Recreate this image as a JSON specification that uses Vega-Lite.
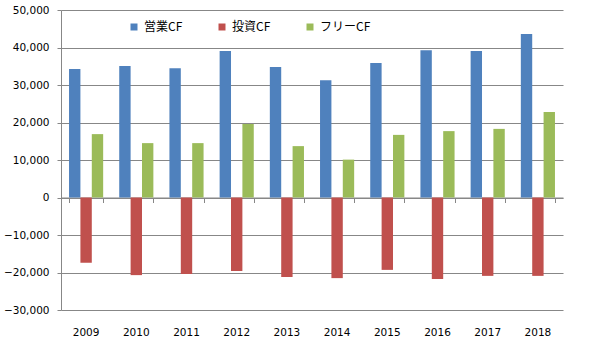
{
  "$schema": "https://vega.github.io/schema/vega-lite/v6.json",
  "width": 502,
  "height": 300,
  "autosize": {"type": "none"},
  "padding": {"left": 61, "top": 10, "right": 45, "bottom": 44},
  "config": {"view": {"stroke": null}, "font": "DejaVu Sans"},
  "data": {
    "values": [
      {"year": "2009", "series": "営業CF", "value": 34300},
      {"year": "2009", "series": "投資CF", "value": -17400},
      {"year": "2009", "series": "フリーCF", "value": 16900},
      {"year": "2010", "series": "営業CF", "value": 35100},
      {"year": "2010", "series": "投資CF", "value": -20700},
      {"year": "2010", "series": "フリーCF", "value": 14500},
      {"year": "2011", "series": "営業CF", "value": 34500},
      {"year": "2011", "series": "投資CF", "value": -20400},
      {"year": "2011", "series": "フリーCF", "value": 14500},
      {"year": "2012", "series": "営業CF", "value": 39100},
      {"year": "2012", "series": "投資CF", "value": -19600},
      {"year": "2012", "series": "フリーCF", "value": 19600},
      {"year": "2013", "series": "営業CF", "value": 34800},
      {"year": "2013", "series": "投資CF", "value": -21200},
      {"year": "2013", "series": "フリーCF", "value": 13700},
      {"year": "2014", "series": "営業CF", "value": 31300},
      {"year": "2014", "series": "投資CF", "value": -21500},
      {"year": "2014", "series": "フリーCF", "value": 10100},
      {"year": "2015", "series": "営業CF", "value": 35900},
      {"year": "2015", "series": "投資CF", "value": -19300},
      {"year": "2015", "series": "フリーCF", "value": 16700},
      {"year": "2016", "series": "営業CF", "value": 39300},
      {"year": "2016", "series": "投資CF", "value": -21700},
      {"year": "2016", "series": "フリーCF", "value": 17700},
      {"year": "2017", "series": "営業CF", "value": 39100},
      {"year": "2017", "series": "投資CF", "value": -20900},
      {"year": "2017", "series": "フリーCF", "value": 18300},
      {"year": "2018", "series": "営業CF", "value": 43600},
      {"year": "2018", "series": "投資CF", "value": -20900},
      {"year": "2018", "series": "フリーCF", "value": 22800}
    ]
  },
  "layer": [
    {
      "mark": {"type": "bar"},
      "encoding": {
        "x": {
          "field": "year", "type": "ordinal",
          "scale": {"paddingInner": 0.32, "paddingOuter": 0.16},
          "axis": {"orient": "bottom", "title": null, "domain": false, "ticks": false, "grid": false,
                   "labelAngle": 0, "labelPadding": 17, "labelFont": "DejaVu Sans", "labelFontSize": 10.5, "labelColor": "#000000"}
        },
        "xOffset": {"field": "series", "type": "nominal", "sort": ["営業CF", "投資CF", "フリーCF"], "scale": {"paddingInner": 0, "paddingOuter": 0}},
        "y": {
          "field": "value", "type": "quantitative",
          "scale": {"domain": [-30000, 50000], "nice": false, "zero": false},
          "axis": {"title": null, "values": [-30000, -20000, -10000, 0, 10000, 20000, 30000, 40000, 50000],
                   "format": ",.0f", "grid": true, "gridColor": "#878787", "gridOpacity": 1, "gridWidth": 1,
                   "domainColor": "#878787", "tickColor": "#878787", "tickSize": 4, "labelPadding": 8,
                   "labelFont": "DejaVu Sans", "labelFontSize": 10.5, "labelColor": "#000000"}
        },
        "color": {
          "field": "series", "type": "nominal",
          "scale": {"domain": ["営業CF", "投資CF", "フリーCF"], "range": ["#4F81BD", "#C0504D", "#9BBB59"]},
          "legend": {"orient": "none", "direction": "horizontal", "legendX": 67, "legendY": 11, "title": null,
                     "symbolType": "square", "symbolSize": 49, "symbolStrokeWidth": 0,
                     "labelFont": "Noto Sans CJK JP", "labelFontSize": 12, "labelColor": "#000000", "labelOffset": 4,
                     "gridAlign": "all", "columnPadding": 21}
        }
      }
    },
    {
      "mark": {"type": "bar", "opacity": 0},
      "encoding": {
        "x": {
          "field": "year", "type": "ordinal",
          "scale": {"paddingInner": 0.32, "paddingOuter": 0.16},
          "axis": {"orient": "bottom", "offset": -112.5, "title": null, "labels": false, "grid": false,
                   "domain": true, "domainColor": "#878787", "ticks": true, "tickColor": "#878787", "tickSize": 5,
                   "tickBand": "extent"}
        }
      }
    }
  ],
  "resolve": {"axis": {"x": "independent"}}
}
